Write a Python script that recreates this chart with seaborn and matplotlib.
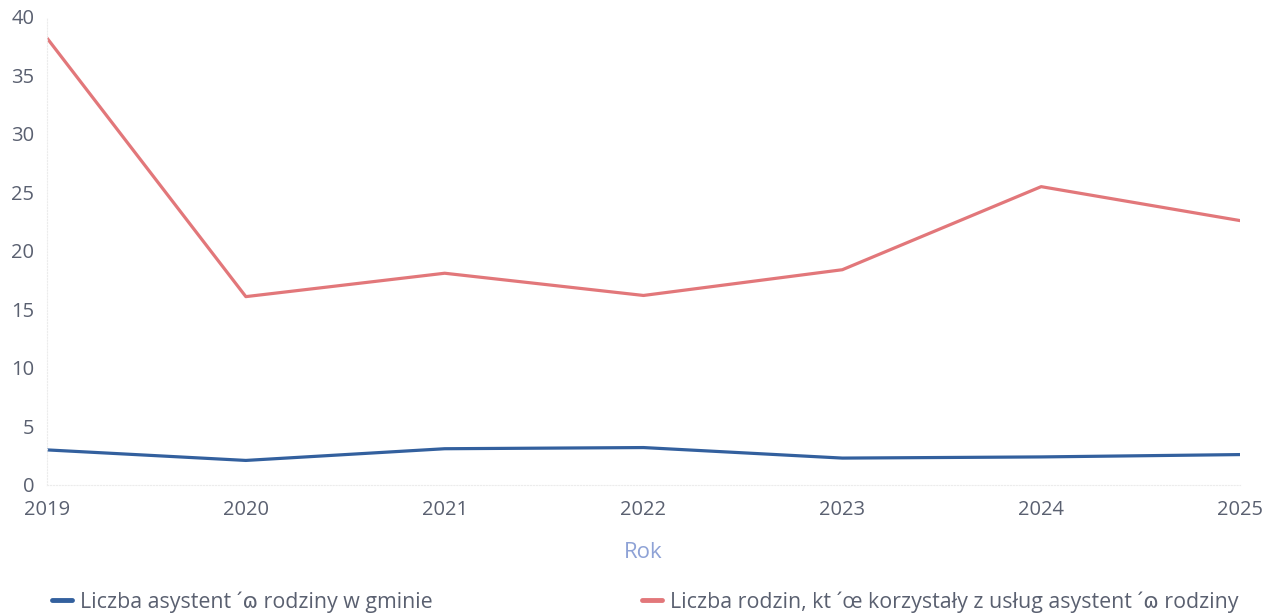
import pandas as pd
import matplotlib
matplotlib.use('Agg')
import matplotlib.pyplot as plt
import seaborn as sns

# dane
lata = [2019, 2020, 2021, 2022, 2023, 2024, 2025]
asystenci = [3.0, 2.1, 3.1, 3.2, 2.3, 2.4, 2.6]
rodziny = [38.2, 16.1, 18.1, 16.2, 18.4, 25.5, 22.6]

seria_a = 'Liczba asystent \u00b4\u0277 rodziny w gminie'
seria_r = 'Liczba rodzin, kt \u00b4\u0153 korzysta\u0142y z us\u0142ug asystent \u00b4\u0277 rodziny'

df = pd.DataFrame({
    'Rok': lata * 2,
    'Wartosc': asystenci + rodziny,
    'Seria': [seria_a] * len(lata) + [seria_r] * len(lata),
})

sns.set_theme(style='white')
plt.rcParams['font.family'] = ['Open Sans', 'DejaVu Sans']

fig = plt.figure(figsize=(12.77, 6.15), dpi=100)
ax = fig.add_axes([47 / 1277, 1 - 485 / 615, (1240 - 47) / 1277, (485 - 17) / 615])

kolory = {seria_a: '#33609e', seria_r: '#e2777a'}
sns.lineplot(data=df, x='Rok', y='Wartosc', hue='Seria', palette=kolory,
             linewidth=2.3, ax=ax, legend=False)

ax.set_xlim(2019, 2025)
ax.set_ylim(0, 40)
ax.set_xticks(lata)
ax.set_yticks(range(0, 41, 5))
ax.tick_params(axis='both', labelsize=14.5, colors='#5a6070', length=0)
ax.tick_params(axis='y', pad=9)
ax.tick_params(axis='x', pad=11)
ax.set_xlabel('Rok', fontsize=16, color='#8ea2d6', labelpad=16)
ax.set_ylabel('')

for s in ['top', 'right']:
    ax.spines[s].set_visible(False)
for s in ['left', 'bottom']:
    ax.spines[s].set_color('#ececec')
    ax.spines[s].set_linestyle(':')
    ax.spines[s].set_linewidth(0.8)

uchwyty = [plt.Line2D([], [], color=kolory[seria_a], linewidth=3.5),
           plt.Line2D([], [], color=kolory[seria_r], linewidth=3.5)]
fig.legend(uchwyty, [seria_a, seria_r], loc='center left',
           bbox_to_anchor=(52 / 1277, 1 - 602 / 615), ncol=2, frameon=False,
           fontsize=15.4, labelcolor='#5a6070', handlelength=0.93,
           handletextpad=0.37, columnspacing=9.8, borderaxespad=0, borderpad=0)

plt.savefig('out.png', dpi=100)
plt.close()
